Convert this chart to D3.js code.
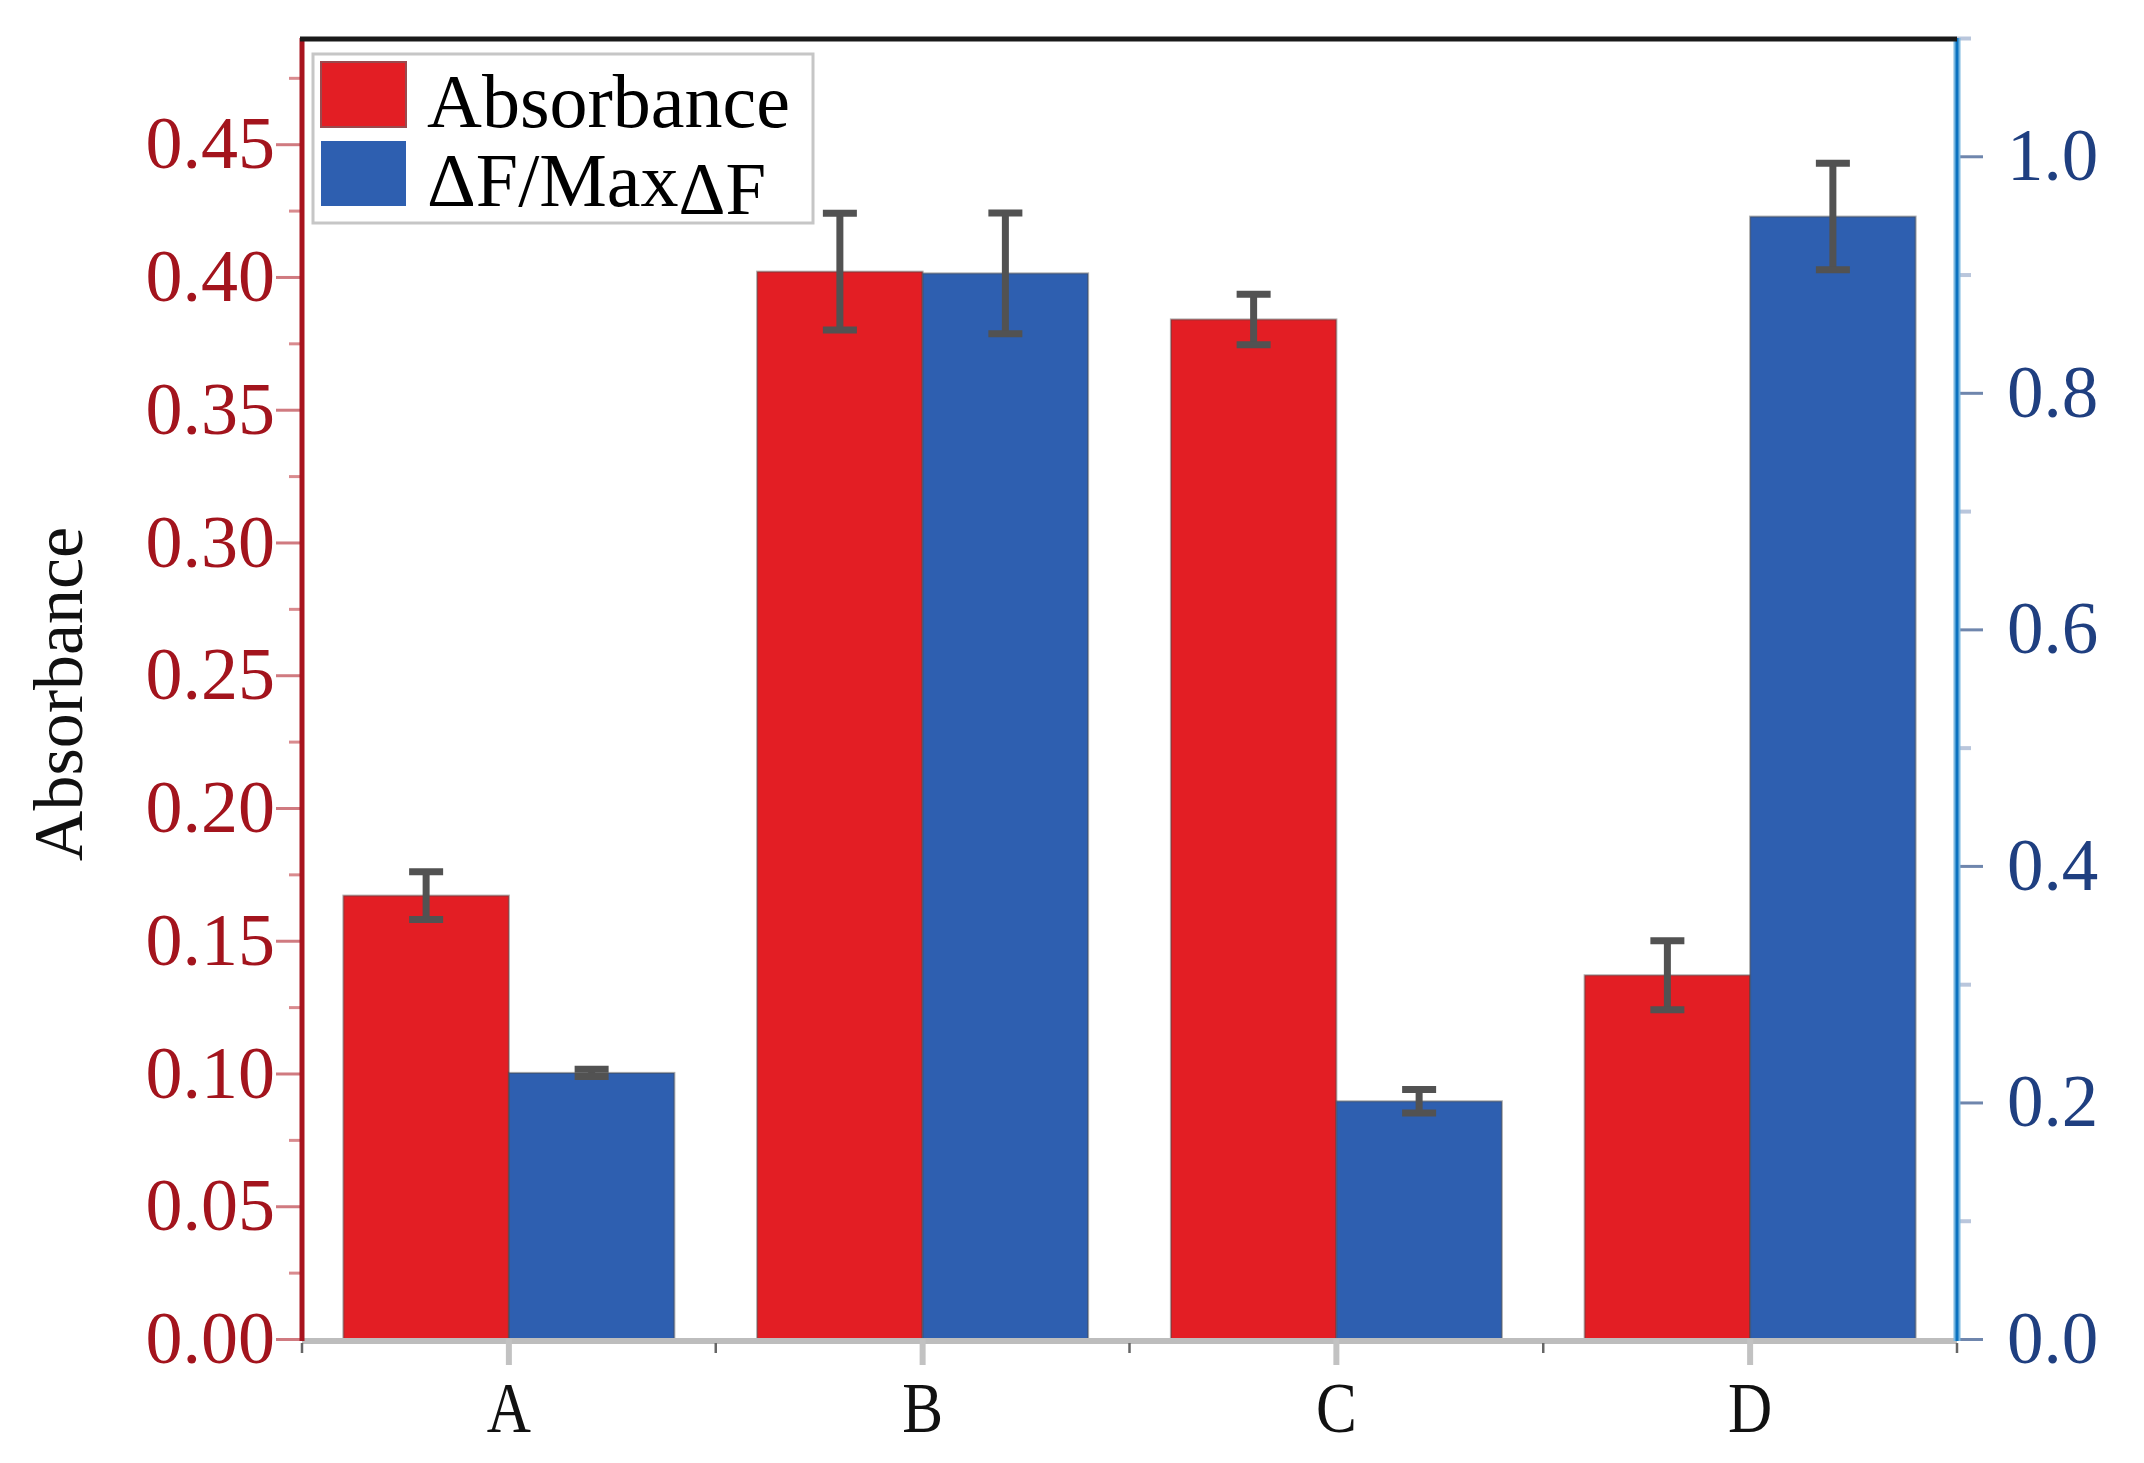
<!DOCTYPE html>
<html>
<head>
<meta charset="utf-8">
<script src="https://cdn.jsdelivr.net/npm/d3@7"></script>
<style>
    body { margin: 0; background: #fff; }
    text { font-family: "Liberation Serif", "DejaVu Serif", serif; }
</style>
</head>
<body>
<div id="chart"></div>
<script>
const categories = ["A", "B", "C", "D"];
const absorbance = [0.167, 0.402, 0.384, 0.137];
const absorbanceErr = [0.009, 0.022, 0.0095, 0.013];
const ratio = [0.225, 0.901, 0.201, 0.949];
const ratioErr = [0.003, 0.051, 0.010, 0.045];
const leftTicks = [0, 0.05, 0.10, 0.15, 0.20, 0.25, 0.30, 0.35, 0.40, 0.45];
const leftMinor = [0.025, 0.075, 0.125, 0.175, 0.225, 0.275, 0.325, 0.375, 0.425, 0.475];
const rightTicks = [0, 0.2, 0.4, 0.6, 0.8, 1.0];
const rightMinor = [0.1, 0.3, 0.5, 0.7, 0.9, 1.1];
const seriesNames = ["Absorbance", "\u0394F/Max"];

const width = 2144, height = 1463;
const margin = { top: 38, right: 187, bottom: 124, left: 302 };
const innerW = width - margin.left - margin.right;
const innerH = height - margin.top - margin.bottom;

const red = "#e31e24", blue = "#2e5fb0";

const svg = d3.select("#chart")
    .append("svg")
    .attr("width", width)
    .attr("height", height);

const g = svg.append("g")
    .attr("transform", "translate(" + margin.left + "," + margin.top + ")");

const xScale = d3.scaleBand()
    .domain(categories)
    .range([0, innerW]);

const xSub = d3.scaleBand()
    .domain([0, 1])
    .range([xScale.bandwidth() * 0.1, xScale.bandwidth() * 0.9]);

const yLeft = d3.scaleLinear().domain([0, 0.49]).range([innerH, 0]);
const yRight = d3.scaleLinear().domain([0, 1.1]).range([innerH, 0]);

const data = categories.map((c, i) => ({
    cat: c,
    bars: [
        { s: 0, v: absorbance[i], e: absorbanceErr[i], y: yLeft, fill: red },
        { s: 1, v: ratio[i], e: ratioErr[i], y: yRight, fill: blue }
    ]
}));

// bars
const groups = g.append("g").attr("class", "bars")
    .selectAll("g")
    .data(data)
    .enter()
    .append("g")
    .attr("transform", d => "translate(" + xScale(d.cat) + ",0)");

groups.selectAll("rect")
    .data(d => d.bars)
    .enter()
    .append("rect")
    .attr("x", d => xSub(d.s))
    .attr("width", xSub.bandwidth())
    .attr("y", d => d.y(d.v))
    .attr("height", d => innerH - d.y(d.v))
    .attr("fill", d => d.fill)
    .attr("stroke", "rgba(70,70,70,0.45)")
    .attr("stroke-width", 2);

// x axis
const xAxisG = g.append("g")
    .attr("transform", "translate(0," + innerH + ")");

xAxisG.append("line")
    .attr("x1", 0).attr("x2", innerW)
    .attr("y1", 2).attr("y2", 2)
    .attr("stroke", "#bdbdbd")
    .attr("stroke-width", 6);

xAxisG.selectAll(".minor")
    .data(d3.range(categories.length + 1))
    .enter()
    .append("line")
    .attr("x1", i => i * xScale.step())
    .attr("x2", i => i * xScale.step())
    .attr("y1", 4).attr("y2", 14)
    .attr("stroke", "#666")
    .attr("stroke-width", 2.5);

const xAxis = d3.axisBottom(xScale).tickSize(26).tickPadding(16);
xAxisG.append("g").call(xAxis)
    .call(a => a.select(".domain").remove())
    .call(a => a.selectAll(".tick line").attr("stroke", "#c2c2c2").attr("stroke-width", 6))
    .call(a => a.selectAll(".tick text")
        .attr("fill", "#111")
        .attr("font-size", 72)
        .attr("font-family", "Liberation Serif")
        .attr("transform", "scale(0.85,1)"));

// left axis
const leftG = g.append("g");
leftG.append("g")
    .call(d3.axisLeft(yLeft).tickValues(leftMinor).tickSize(13).tickFormat(""))
    .call(a => a.select(".domain").remove())
    .call(a => a.selectAll(".tick line").attr("stroke", "#d98a8e").attr("stroke-width", 3));
leftG.append("g")
    .call(d3.axisLeft(yLeft).tickValues(leftTicks).tickSize(26).tickPadding(1).tickFormat(d3.format(".2f")))
    .call(a => a.select(".domain").remove())
    .call(a => a.selectAll(".tick line").attr("stroke", "#d07a80").attr("stroke-width", 3))
    .call(a => a.selectAll(".tick text")
        .attr("fill", "#a3141d")
        .attr("font-size", 74)
        .attr("font-family", "Liberation Serif"));
leftG.append("line")
    .attr("x1", 0).attr("x2", 0)
    .attr("y1", 0).attr("y2", innerH + 2)
    .attr("stroke", "#a8141e")
    .attr("stroke-width", 5);

// right axis
const rightG = g.append("g").attr("transform", "translate(" + innerW + ",0)");
rightG.append("g")
    .call(d3.axisRight(yRight).tickValues(rightMinor).tickSize(14).tickFormat(""))
    .call(a => a.select(".domain").remove())
    .call(a => a.selectAll(".tick line").attr("stroke", "#b9c6dc").attr("stroke-width", 4));
rightG.append("g")
    .call(d3.axisRight(yRight).tickValues(rightTicks).tickSize(26).tickPadding(24).tickFormat(d3.format(".1f")))
    .call(a => a.select(".domain").remove())
    .call(a => a.selectAll(".tick line").attr("stroke", "#6f86ad").attr("stroke-width", 3))
    .call(a => a.selectAll(".tick text")
        .attr("fill", "#1f3f80")
        .attr("font-size", 73)
        .attr("font-family", "Liberation Serif"));
rightG.append("line")
    .attr("x1", 0).attr("x2", 0)
    .attr("y1", 0).attr("y2", innerH + 2)
    .attr("stroke", "#7ab8e0")
    .attr("stroke-width", 7);
rightG.append("line")
    .attr("x1", 0).attr("x2", 0)
    .attr("y1", 0).attr("y2", innerH + 2)
    .attr("stroke", "#0b72bf")
    .attr("stroke-width", 3);

// top border
g.append("line")
    .attr("x1", -2).attr("x2", innerW)
    .attr("y1", 1).attr("y2", 1)
    .attr("stroke", "#1a1a1a")
    .attr("stroke-width", 5);

// error bars
const errs = groups.selectAll(".err")
    .data(d => d.bars)
    .enter()
    .append("g")
    .attr("class", "err")
    .attr("stroke", "#525252")
    .attr("stroke-width", 7);

errs.append("line")
    .attr("x1", d => xSub(d.s) + xSub.bandwidth() / 2)
    .attr("x2", d => xSub(d.s) + xSub.bandwidth() / 2)
    .attr("y1", d => d.y(d.v + d.e))
    .attr("y2", d => d.y(d.v - d.e));

errs.selectAll(".cap")
    .data(d => [d.v + d.e, d.v - d.e].map(v => ({ v, d })))
    .enter()
    .append("line")
    .attr("x1", o => xSub(o.d.s) + xSub.bandwidth() / 2 - 17)
    .attr("x2", o => xSub(o.d.s) + xSub.bandwidth() / 2 + 17)
    .attr("y1", o => o.d.y(o.v))
    .attr("y2", o => o.d.y(o.v));

// y label
svg.append("text")
    .attr("transform", "translate(82," + 694 + ") rotate(-90)")
    .attr("text-anchor", "middle")
    .attr("font-size", 70)
    .attr("fill", "#111")
    .text("Absorbance");

// legend
const legend = svg.append("g").attr("transform", "translate(313,54)");
legend.append("rect")
    .attr("width", 500).attr("height", 169)
    .attr("fill", "#fff")
    .attr("stroke", "#c6c6c6")
    .attr("stroke-width", 3);

const items = legend.selectAll(".item")
    .data(seriesNames)
    .enter()
    .append("g")
    .attr("transform", (d, i) => "translate(8," + (8 + i * 79) + ")");

items.append("rect")
    .attr("width", 85).attr("height", 65)
    .attr("fill", (d, i) => i === 0 ? red : blue)
    .attr("stroke", (d, i) => i === 0 ? "#9a4a4e" : "none")
    .attr("stroke-width", 2);

const labels = items.append("text")
    .attr("x", 106)
    .attr("y", 65)
    .attr("font-size", 76)
    .attr("fill", "#000");

labels.append("tspan").text(d => d);
labels.filter((d, i) => i === 1)
    .append("tspan")
    .attr("dy", 8)
    .attr("font-size", 73)
    .text("\u0394F");
</script>
</body>
</html>
